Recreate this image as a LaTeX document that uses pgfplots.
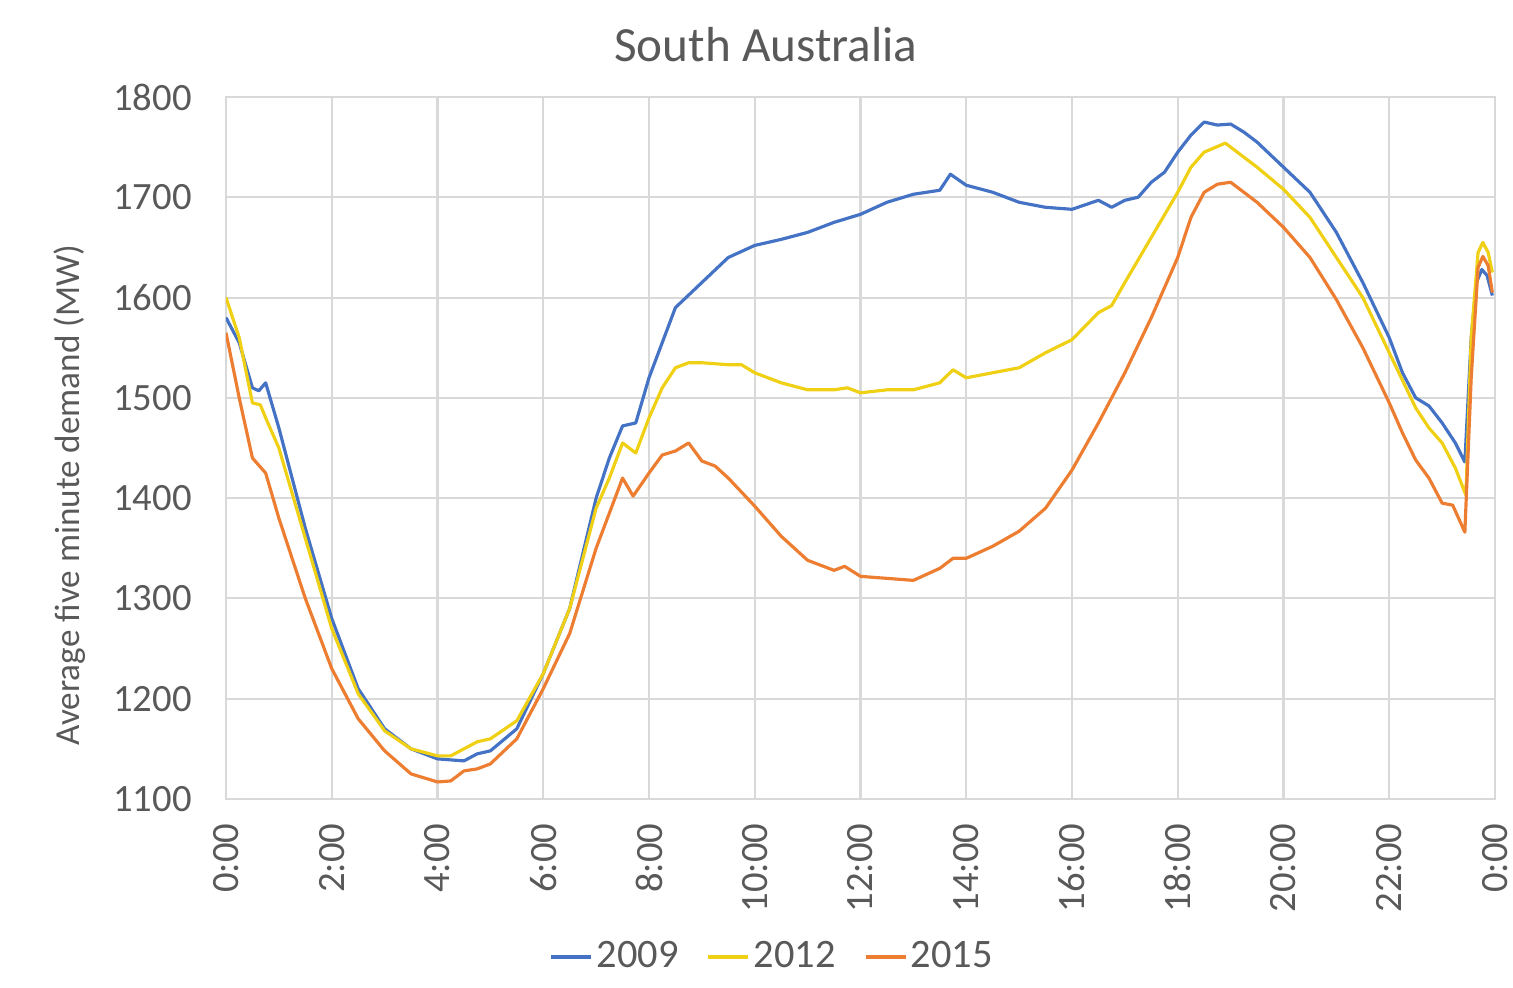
\documentclass[border=0pt]{standalone}
\usepackage{pgfplots}
\pgfplotsset{compat=1.18}
\usepackage{fontspec}
\setmainfont{Carlito}
\definecolor{c09}{HTML}{4472C4}
\definecolor{c12}{RGB}{240,208,20}
\definecolor{c15}{HTML}{ED7D31}
\definecolor{txt}{HTML}{595959}
\definecolor{gridc}{HTML}{D9D9D9}
\begin{document}
\begin{tikzpicture}
\begin{axis}[
  scale only axis, width=12.69cm, height=7.02cm,
  xmin=0, xmax=24, ymin=1100, ymax=1800,
  xtick={0,2,...,24},
  xticklabels={0:00,2:00,4:00,6:00,8:00,10:00,12:00,14:00,16:00,18:00,20:00,22:00,0:00},
  ytick={1100,1200,...,1800},
  /pgf/number format/assume math mode=true,
  /pgf/number format/1000 sep={},
  grid=major, major grid style={gridc, line width=0.6pt},
  axis line style={gridc, line width=0.6pt},
  tick style={draw=none},
  ticklabel style={font=\fontsize{11}{13}\selectfont, text=txt},
  yticklabel style={xshift=-0.22cm},
  xticklabel style={yshift=-0.24cm, rotate=90, anchor=east, inner sep=0pt},
  title={South Australia},
  title style={at={(rel axis cs:0.4255,1.045)}, anchor=center, font=\fontsize{14}{16}\selectfont, text=txt},
  ylabel={Average five minute demand (MW)},
  ylabel style={at={(rel axis cs:-0.123,0.433)}, anchor=center, rotate=0, font=\fontsize{10}{12}\selectfont, text=txt},
  legend columns=3,
  legend style={at={(rel axis cs:0.431,-0.225)}, anchor=center, draw=none, fill=none,
    font=\fontsize{11.5}{14}\selectfont, text=txt, column sep=0pt, inner sep=0pt,
    nodes={inner xsep=1pt}, /tikz/every even column/.append style={column sep=7pt}},
  legend image code/.code={\draw[#1, line width=1pt] (0cm,0cm) -- (0.4cm,0cm);},
  every axis plot/.append style={line width=0.9pt, line join=round},
]
\addplot[c09] coordinates {
(0,1580)(0.25,1555)(0.5,1510)(0.62,1507)(0.75,1515)(1,1470)(1.5,1370)(2,1280)(2.5,1210)(3,1170)(3.5,1150)(4,1140)(4.5,1138)(4.75,1145)(5,1148)(5.5,1170)(6,1225)(6.5,1290)(7,1400)(7.25,1440)(7.5,1472)(7.75,1475)(8,1520)(8.25,1555)(8.5,1590)(9,1615)(9.5,1640)(10,1652)(10.5,1658)(11,1665)(11.5,1675)(12,1683)(12.5,1695)(13,1703)(13.5,1707)(13.7,1723)(14,1712)(14.5,1705)(15,1695)(15.5,1690)(16,1688)(16.5,1697)(16.75,1690)(17,1697)(17.25,1700)(17.5,1715)(17.75,1725)(18,1745)(18.25,1762)(18.5,1775)(18.75,1772)(19,1773)(19.25,1765)(19.5,1755)(20,1730)(20.5,1705)(21,1665)(21.5,1615)(22,1560)(22.25,1525)(22.5,1500)(22.75,1492)(23,1475)(23.25,1455)(23.43,1436)(23.55,1560)(23.65,1615)(23.75,1628)(23.85,1622)(23.95,1602)
};
\addlegendentry{2009}
\addplot[c12] coordinates {
(0,1600)(0.25,1560)(0.5,1495)(0.65,1493)(0.75,1480)(1,1450)(1.5,1360)(2,1270)(2.5,1205)(3,1168)(3.5,1150)(4,1143)(4.25,1143)(4.5,1150)(4.75,1157)(5,1160)(5.5,1178)(6,1225)(6.5,1290)(7,1390)(7.25,1420)(7.5,1455)(7.75,1445)(8,1480)(8.25,1510)(8.5,1530)(8.75,1535)(9,1535)(9.5,1533)(9.75,1533)(10,1525)(10.5,1515)(11,1508)(11.5,1508)(11.75,1510)(12,1505)(12.5,1508)(13,1508)(13.5,1515)(13.75,1528)(14,1520)(14.5,1525)(15,1530)(15.5,1545)(16,1558)(16.5,1585)(16.75,1592)(17,1615)(17.5,1660)(18,1705)(18.25,1730)(18.5,1745)(18.9,1754)(19.25,1740)(19.5,1730)(20,1708)(20.5,1680)(21,1640)(21.5,1600)(22,1545)(22.5,1490)(22.75,1470)(23,1455)(23.25,1430)(23.45,1403)(23.55,1560)(23.68,1645)(23.77,1655)(23.87,1645)(23.95,1625)
};
\addlegendentry{2012}
\addplot[c15] coordinates {
(0,1565)(0.25,1500)(0.5,1440)(0.75,1425)(1,1380)(1.5,1300)(2,1230)(2.5,1180)(3,1148)(3.5,1125)(4,1117)(4.25,1118)(4.5,1128)(4.75,1130)(5,1135)(5.5,1160)(6,1210)(6.5,1265)(7,1350)(7.25,1385)(7.5,1420)(7.7,1402)(8,1425)(8.25,1443)(8.5,1447)(8.75,1455)(9,1437)(9.25,1432)(9.5,1420)(10,1392)(10.5,1362)(11,1338)(11.5,1328)(11.7,1332)(12,1322)(12.5,1320)(13,1318)(13.5,1330)(13.75,1340)(14,1340)(14.5,1352)(15,1367)(15.5,1390)(16,1428)(16.5,1475)(17,1525)(17.5,1580)(18,1640)(18.25,1680)(18.5,1705)(18.75,1713)(19,1715)(19.25,1705)(19.5,1695)(20,1670)(20.5,1640)(21,1598)(21.5,1550)(22,1495)(22.25,1465)(22.5,1438)(22.75,1420)(23,1395)(23.2,1393)(23.43,1366)(23.55,1520)(23.68,1630)(23.77,1641)(23.87,1632)(23.95,1605)
};
\addlegendentry{2015}
\end{axis}
\pgfresetboundingbox
\path (-2.26cm,-1.89cm) rectangle (12.87cm,7.99cm);
\end{tikzpicture}
\end{document}
